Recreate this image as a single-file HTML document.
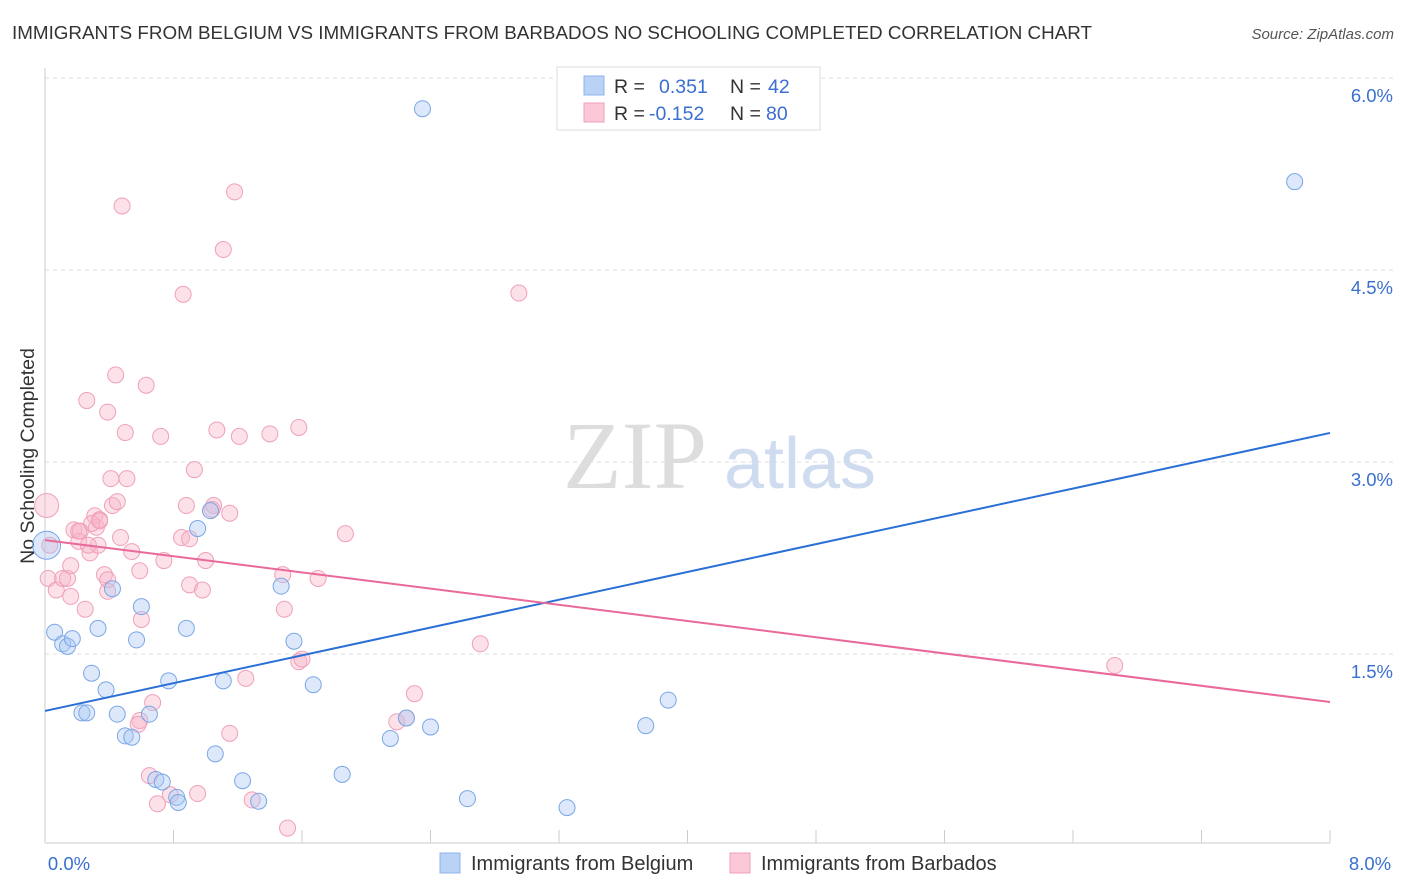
<!DOCTYPE html>
<html><head><meta charset="utf-8"><style>
body{margin:0;background:#fff;font-family:"Liberation Sans",sans-serif;}
svg{display:block}
</style></head><body>
<svg id="chart" width="1406" height="892" xmlns="http://www.w3.org/2000/svg">
<text x="12" y="39" font-size="18" fill="#333" textLength="1080" lengthAdjust="spacingAndGlyphs">IMMIGRANTS FROM BELGIUM VS IMMIGRANTS FROM BARBADOS NO SCHOOLING COMPLETED CORRELATION CHART</text>
<text x="1394" y="39" font-size="15" fill="#555" font-style="italic" text-anchor="end">Source: ZipAtlas.com</text>
<text transform="translate(34,456) rotate(-90)" font-size="19.5" fill="#333" text-anchor="middle">No Schooling Completed</text>
<g id="grid"></g>
<g><text x="635" y="488" font-size="96" font-family="Liberation Serif,serif" fill="#ddd" text-anchor="middle">ZIP</text><text x="800" y="488" font-size="72" fill="#cfdcf0" text-anchor="middle">atlas</text></g>
<g id="points"></g>
<g id="lines"></g>
<g>
<rect x="557" y="67" width="263" height="63" fill="#fff" stroke="#ddd"/>
<rect x="584" y="76" width="20" height="19" fill="#b9d3f6" stroke="#8fb3e8"/>
<rect x="584" y="103" width="20" height="19" fill="#fac8d6" stroke="#f0a0b8"/>
<text x="614" y="93" font-size="19.5" fill="#333">R =</text><text x="659" y="93" font-size="19.5" fill="#3a6fd0">0.351</text>
<text x="730" y="93" font-size="19.5" fill="#333">N =</text><text x="768" y="93" font-size="19.5" fill="#3a6fd0">42</text>
<text x="614" y="120" font-size="19.5" fill="#333">R =</text><text x="649" y="120" font-size="19.5" fill="#3a6fd0">-0.152</text>
<text x="730" y="120" font-size="19.5" fill="#333">N =</text><text x="766" y="120" font-size="19.5" fill="#3a6fd0">80</text>
</g>
<g>
<rect x="440" y="853" width="20" height="20" fill="#b9d3f6" stroke="#8fb3e8"/>
<text x="471" y="870" font-size="20" fill="#333">Immigrants from Belgium</text>
<rect x="730" y="853" width="20" height="20" fill="#fac8d6" stroke="#f0a0b8"/>
<text x="761" y="870" font-size="20" fill="#333">Immigrants from Barbados</text>
</g>
</svg>
<script>
const yTicks=[1.5,3.0,4.5,6.0];
const yTickLabels=["1.5%","3.0%","4.5%","6.0%"];
const xTicks=[0,0.8,1.6,2.4,3.2,4.0,4.8,5.6,6.4,7.2,8.0];
const blueX=[2.35,7.78,0.01,0.06,0.11,0.14,0.17,0.33,0.29,0.38,0.23,0.26,0.45,0.50,0.54,0.60,0.57,0.42,0.65,0.69,0.73,0.82,0.83,0.77,0.88,0.95,1.03,1.06,1.11,1.23,1.33,1.47,1.55,1.67,1.85,2.15,2.25,2.40,2.63,3.25,3.74,3.88];
const blueY=[5.76,5.19,2.35,1.67,1.58,1.56,1.62,1.70,1.35,1.22,1.04,1.04,1.03,0.86,0.85,1.87,1.61,2.01,1.03,0.52,0.50,0.38,0.34,1.29,1.70,2.48,2.62,0.72,1.29,0.51,0.35,2.03,1.60,1.26,0.56,0.84,1.00,0.93,0.37,0.30,0.94,1.14];
const pinkX=[0.01,0.03,0.02,0.07,0.11,0.14,0.16,0.18,0.22,0.21,0.25,0.26,0.28,0.31,0.32,0.34,0.33,0.37,0.39,0.39,0.41,0.42,0.44,0.45,0.47,0.48,0.50,0.51,0.54,0.59,0.60,0.63,0.65,0.70,0.72,0.74,0.78,0.86,0.88,0.85,0.90,0.90,0.93,0.98,1.00,1.05,1.07,1.11,1.15,1.15,1.18,1.21,1.25,1.29,1.40,1.48,1.49,1.51,1.58,1.58,1.60,1.70,1.87,2.19,2.25,2.30,2.71,2.95,6.66,0.67,0.59,0.58,0.95,0.16,0.39,1.04,0.21,0.29,0.34,0.27];
const pinkY=[2.66,2.35,2.09,2.00,2.09,2.09,2.19,2.47,2.46,2.38,1.85,3.48,2.29,2.58,2.49,2.55,2.35,2.12,3.39,2.08,2.87,2.66,3.68,2.69,2.41,5.00,3.23,2.87,2.30,2.15,1.77,3.60,0.55,0.33,3.20,2.23,0.40,4.31,2.66,2.41,2.04,2.40,2.94,2.00,2.23,2.66,3.25,4.66,2.60,0.88,5.11,3.20,1.31,0.36,3.22,2.12,1.85,0.14,3.27,1.44,1.46,2.09,2.44,0.97,1.00,1.19,1.58,4.32,1.41,1.12,0.98,0.95,0.41,1.95,1.99,2.63,2.46,2.52,2.54,2.35];
const blueLine=[1.055,3.227];
const pinkLine=[2.39,1.125];
const X0=45,X1=1330,Y0=846,PX=128;
const xs=v=>X0+v/8*(X1-X0), ys=v=>Y0-v*PX;
const NS="http://www.w3.org/2000/svg";
function mk(t,a,p){const e=document.createElementNS(NS,t);for(const k in a)e.setAttribute(k,a[k]);p.appendChild(e);return e;}
const grid=document.getElementById('grid');
yTicks.forEach((v,i)=>{
 const l=mk('line',{x1:X0,x2:1394,y1:ys(v),y2:ys(v),stroke:'#ddd','stroke-dasharray':'4,4'},grid);
 
 
 const t=mk('text',{x:1393,y:ys(v)+24,'font-size':18.5,fill:'#3a6fd0','text-anchor':'end'},grid);
 t.textContent=yTickLabels[i];
 
 
});
const ax=mk('line',{x1:X0,x2:X0,y1:68,y2:843,stroke:'#ccc'},grid);


const bx=mk('line',{x1:X0,x2:X1,y1:843,y2:843,stroke:'#ccc'},grid);


xTicks.forEach(v=>{
 const l=mk('line',{x1:xs(v),x2:xs(v),y1:830,y2:843,stroke:'#ccc'},grid);
 
 
});
[["0.0%",69],["8.0%",1370]].forEach(([s,x])=>{
 const t=mk('text',{x:x,y:870,'font-size':18.5,fill:'#3a6fd0','text-anchor':'middle'},grid);
 t.textContent=s;
 
 
});
const pts=document.getElementById('points');
pinkX.forEach((v,i)=>{
 const c=mk('circle',{cx:xs(v),cy:ys(pinkY[i]),r:i==0?12:8,fill:'rgba(248,180,200,0.4)',stroke:'#f0a0b8','stroke-width':1},pts);
 
 
});
blueX.forEach((v,i)=>{
 const c=mk('circle',{cx:xs(v),cy:ys(blueY[i]),r:i==2?14:8,fill:'rgba(170,200,245,0.4)',stroke:'#7aa6e6','stroke-width':1},pts);
 
 
});
const ln=document.getElementById('lines');
const b=mk('line',{x1:xs(0),y1:ys(blueLine[0]),x2:xs(8),y2:ys(blueLine[1]),stroke:'#2a6fd6','stroke-width':2},ln);


const p=mk('line',{x1:xs(0),y1:ys(pinkLine[0]),x2:xs(8),y2:ys(pinkLine[1]),stroke:'#e8699a','stroke-width':2},ln);


</script>
</body></html>
